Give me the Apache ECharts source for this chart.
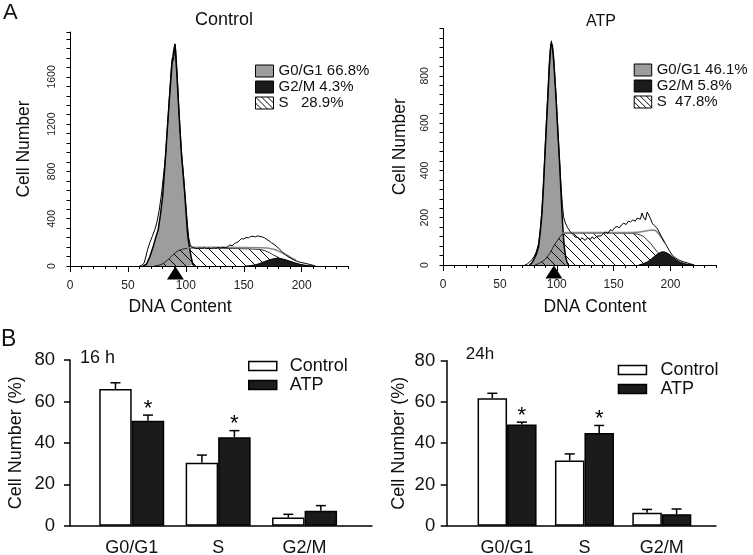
<!DOCTYPE html>
<html><head><meta charset="utf-8">
<script src="https://cdn.jsdelivr.net/npm/echarts@6/dist/echarts.min.js"></script>
<style>html,body{margin:0;padding:0;background:#fff}#c{width:753px;height:555px}</style>
</head><body><div id="c"></div>
<script>
const FONT = '"Liberation Sans", Arial, Helvetica, sans-serif';

// ---------- Panel A : DNA histograms ----------
const histTickLabels = [0, 50, 100, 150, 200];

const ctrlRaw = [[60,0],[62,6],[64,25],[65.6,83],[67,140],[69,200],[71,250],[73.3,309],[75,370],[77,470],[79,610],[81,790],[82.5,935],[84,1170],[86,1460],[87.5,1690],[88.3,1760],[89.2,1740],[90,1800],[90.6,1880],[91.3,1830],[92.5,1640],[94,1330],[94.9,1180],[96.3,960],[98,770],[99.2,620],[100.5,460],[101.5,340],[102.5,240],[103.5,190],[104.5,165],[106,156],[108,150],[110,146],[112,152],[114,149],[116,154],[118,148],[120,152],[122,147],[124,153],[126,150],[128,157],[130,152],[132,158],[134,154],[136,162],[138,178],[140,172],[142,190],[144,198],[146,212],[148,232],[150,228],[152,242],[154,238],[156,250],[158,252],[160,246],[162,255],[164,250],[166,246],[168,238],[170,224],[172,212],[174,196],[176,184],[178,168],[180,150],[182,132],[184,112],[186,96],[188,80],[190,69],[192,58],[194,48],[196,40],[199,31],[202,25],[205,18],[208,11],[210,5],[212,0]];
const ctrlG1 = [[63,0],[66,15],[69,80],[72,170],[74,240],[76.2,309],[78,430],[80,592],[82,860],[84,1153],[86,1440],[88,1700],[89.5,1820],[90.6,1876],[92,1660],[93.5,1400],[94.9,1153],[96.3,935],[98,740],[99.2,592],[100.2,450],[101.2,309],[102,230],[103,168],[104.5,80],[106,15],[107.5,0]];
const ctrlS = [[73,0],[76,5],[80,18],[84,48],[86.3,69],[88,85],[90,105],[93,128],[96.4,140],[100,148],[104,152],[112,152],[125,151],[140,148],[155,145],[164,140],[168,130],[172,114],[175,97],[178,82],[181,66],[184,55],[188,40],[192,27],[196,15],[200,6],[204,0]];
const ctrlG2 = [[152,0],[156,3],[160,10],[164,22],[168,38],[172,52],[175,60],[178,64],[181,63],[184,58],[187,50],[190,40],[194,27],[198,16],[202,8],[206,3],[210,0]];
const ctrlFit = [[101,148],[104,156],[110,158],[130,158],[150,157],[165,155],[170,152],[174,146],[177,138],[180,126],[183,113],[186,98],[189,82],[192,64],[195,50]];
const ctrlPeak = 91;
const ctrlLegend = ['G0/G1 66.8%', 'G2/M 4.3%', 'S   28.9%'];

const atpRaw = [[72,0],[74,4],[76,12],[78,22],[80,35],[82,55],[84,90],[85.5,150],[87,235],[88.2,340],[89.3,450],[90.8,600],[92.2,730],[93.5,860],[94.5,925],[95.3,948],[96.2,942],[97.2,890],[98.3,800],[99.5,710],[101,570],[102.5,440],[103.8,330],[105,250],[106,204],[107.5,178],[108.5,168],[109.5,158],[110.5,150],[111.9,141],[113,133],[114.8,127],[116,118],[117.5,112],[119,116],[120.7,106],[122,115],[123.6,113],[125,104],[127,116],[129.5,108],[131,119],[133,111],[135.4,122],[137,128],[139,123],[141.2,135],[143,139],[145,134],[147.1,149],[149,145],[151,158],[153,163],[155,157],[157,170],[158.9,177],[161,171],[163,186],[164.8,182],[167,191],[169,185],[170.6,198],[172,206],[173.5,194],[175,220],[176.5,199],[178,190],[179.5,224],[180.9,218],[182.5,196],[183.9,176],[186,166],[188.3,155],[190.5,135],[192.7,113],[195,94],[197.1,77],[199,60],[201.5,42],[204,31],[207.3,21],[211,14],[214.7,9],[218,4],[221,0]];
const atpG1 = [[76,0],[78,8],[79.6,21],[82,45],[84,77],[85.5,140],[87,219],[88.2,320],[89.3,430],[90.8,580],[92.2,712],[93.5,840],[94.5,910],[95.2,937],[96.2,925],[97.5,850],[99.3,712],[101,560],[102.5,430],[103.6,320],[104.6,219],[105.6,140],[106.6,77],[107.8,35],[109,12],[110.5,0]];
const atpS = [[81,0],[84,6],[87,14],[90,25],[94,50],[97,77],[100,100],[103,120],[105.5,134],[115,135],[130,135],[150,135],[165,134],[171,131],[174,126],[176.5,120],[179.5,106],[182.4,92],[185.5,73],[188.3,56],[191,42],[194.1,28],[197,20],[200,14],[203,9],[206,5],[210,0]];
const atpG2 = [[172,0],[176,5],[180,14],[183,25],[186,37],[189,48],[192,55],[194,56],[196,53],[199,45],[202,33],[205,22],[208,13],[212,6],[216,2],[220,0]];
const atpFit = [[105,134],[108,137],[130,137],[150,137],[167,137],[172,139],[177,143],[182,147],[185,148],[187,145],[189,136],[191,124],[193,110],[195,94]];
const atpPeak = 97.5;
const atpLegend = ['G0/G1 46.1%', 'G2/M 5.8%', 'S  47.8%'];

// ---------- Panel B : bar charts ----------
const phases = ['G0/G1', 'S', 'G2/M'];
const groups = ['Control', 'ATP'];
const ctrl16 = [66.0, 30.4, 3.9];
const ctrl16Err = [3.0, 3.7, 1.6];
const atp16 = [50.7, 42.7, 7.2];
const atp16Err = [2.7, 3.2, 2.5];
const sig16 = [1, 1, 0];
const ctrl24 = [61.8, 31.6, 6.3];
const ctrl24Err = [2.4, 3.2, 1.6];
const atp24 = [49.1, 44.9, 5.6];
const atp24Err = [1.1, 3.7, 2.5];
const sig24 = [1, 1, 0];

// ---------- helpers ----------
function makeHatch(size) {
  const c = document.createElement('canvas');
  c.width = size; c.height = size;
  const g = c.getContext('2d');
  g.strokeStyle = '#000'; g.lineWidth = 1;
  g.beginPath();
  g.moveTo(0, 0); g.lineTo(size, size);
  g.moveTo(-size / 2, size / 2); g.lineTo(size / 2, size * 1.5);
  g.moveTo(size / 2, -size / 2); g.lineTo(size * 1.5, size / 2);
  g.stroke();
  return c;
}
const hatchFill = { image: makeHatch(10), repeat: 'repeat' };
const hatchLegend = { image: makeHatch(6), repeat: 'repeat' };
const GRAY = '#9d9d9d', DARK = '#1b1b1b';

function histSeries(xi, yi, raw, g1, s, g2, fit, names, peak) {
  const base = { type: 'line', xAxisIndex: xi, yAxisIndex: yi, symbol: 'none', showSymbol: false, animation: false, silent: true };
  return [
    Object.assign({}, base, { name: names[0], data: g1, z: 2,
      lineStyle: { color: '#000', width: 1.5 }, itemStyle: { color: GRAY },
      areaStyle: { color: GRAY, opacity: 1 },
      markPoint: { symbol: 'triangle', symbolSize: [17, 13], symbolOffset: [0, 7], silent: true,
        itemStyle: { color: '#000' }, label: { show: false }, data: [{ coord: [peak, 0] }] } }),
    Object.assign({}, base, { name: names[2], data: s, z: 3,
      lineStyle: { color: '#000', width: 0.8 }, itemStyle: { color: '#fff' },
      areaStyle: { color: hatchFill, opacity: 1 } }),
    Object.assign({}, base, { name: names[1], data: g2, z: 4,
      lineStyle: { color: '#000', width: 1 }, itemStyle: { color: DARK },
      areaStyle: { color: DARK, opacity: 1 } }),
    Object.assign({}, base, { name: 'fit' + xi, data: fit, z: 5,
      lineStyle: { color: '#888', width: 1.6 } }),
    Object.assign({}, base, { name: 'raw' + xi, data: raw, z: 6,
      lineStyle: { color: '#000', width: 1 } })
  ];
}

function histLegend(names, left, top, w) {
  return {
    orient: 'vertical', left: left, top: top, padding: 0, itemWidth: w, itemHeight: 12, itemGap: 1,
    selectedMode: false,
    textStyle: { fontSize: 15, color: '#111', fontFamily: FONT },
    data: [
      { name: names[0], icon: 'rect', itemStyle: { color: GRAY, borderColor: '#000', borderWidth: 1 } },
      { name: names[1], icon: 'rect', itemStyle: { color: DARK, borderColor: '#000', borderWidth: 1 } },
      { name: names[2], icon: 'rect', itemStyle: { color: hatchLegend, borderColor: '#000', borderWidth: 1 } }
    ]
  };
}

function barLegend(left, top, gap) {
  return {
    orient: 'vertical', left: left, top: top, padding: 0, itemWidth: 28, itemHeight: 9, itemGap: 1,
    selectedMode: false,
    textStyle: { fontSize: 18, color: '#111', fontFamily: FONT, padding: [0, 0, 0, gap] },
    data: [
      { name: groups[0], icon: 'rect', itemStyle: { color: '#fff', borderColor: '#000', borderWidth: 1.5 } },
      { name: groups[1], icon: 'rect', itemStyle: { color: DARK, borderColor: '#000', borderWidth: 1.5 } }
    ]
  };
}

function histX(grid) {
  return [
    { gridIndex: grid, type: 'value', min: 0, max: 240, interval: 10,
      axisLine: { show: true, lineStyle: { color: '#000', width: 1 } },
      axisTick: { show: true, length: 3, lineStyle: { color: '#000' } },
      splitLine: { show: false },
      axisLabel: { customValues: histTickLabels, formatter: v => String(v), fontSize: 12, margin: 14, color: '#222', fontFamily: FONT } },
    { gridIndex: grid, type: 'value', min: 0, max: 240, position: 'bottom',
      axisLine: { show: false }, axisLabel: { show: false }, splitLine: { show: false },
      axisTick: { show: true, length: 6, customValues: histTickLabels, lineStyle: { color: '#000' } } }
  ];
}
function histY(grid, max, interval, gap) {
  return { gridIndex: grid, type: 'value', min: 0, max: max, interval: interval,
    axisLine: { show: true, lineStyle: { color: '#000', width: 1 } },
    axisTick: { show: true, length: 3.5, lineStyle: { color: '#000' } },
    minorTick: { show: true, splitNumber: 5, length: 3.5, lineStyle: { color: '#000' } },
    splitLine: { show: false },
    axisLabel: { rotate: 90, fontSize: 10.5, margin: 12, color: '#222', showMaxLabel: false, fontFamily: FONT,
      formatter: v => String(v) },
    name: 'Cell Number', nameLocation: 'middle', nameGap: gap,
    nameTextStyle: { fontSize: 17.5, color: '#111', fontFamily: FONT } };
}

function barX(grid, min, max) {
  return { gridIndex: grid, type: 'value', min: min, max: max,
    axisLine: { show: true, lineStyle: { color: '#000', width: 1.5 } },
    axisTick: { show: false }, splitLine: { show: false },
    axisLabel: { customValues: [1, 2, 3], formatter: v => phases[Math.round(v) - 1],
      fontSize: 18, margin: 13, color: '#111', fontFamily: FONT } };
}
function barY(grid, margin, gap) {
  return { gridIndex: grid, type: 'value', min: 0, max: 80, interval: 20,
    axisLine: { show: true, lineStyle: { color: '#000', width: 1.5 } },
    axisTick: { show: true, length: 6, lineStyle: { color: '#000', width: 1.5 } },
    splitLine: { show: false },
    axisLabel: { fontSize: 18.5, margin: margin, color: '#111', fontFamily: FONT },
    name: 'Cell Number (%)', nameLocation: 'middle', nameGap: gap,
    nameTextStyle: { fontSize: 18, color: '#111', fontFamily: FONT } };
}

function barSeries(xi, yi, ctrl, atp, w) {
  const common = { type: 'bar', xAxisIndex: xi, yAxisIndex: yi, barWidth: w, barGap: '0%', animation: false, silent: true };
  return [
    Object.assign({}, common, { name: groups[0], data: ctrl.map((v, i) => [i + 1, v]),
      itemStyle: { color: '#fff', borderColor: '#000', borderWidth: 1.5 } }),
    Object.assign({}, common, { name: groups[1], data: atp.map((v, i) => [i + 1, v]),
      itemStyle: { color: DARK, borderColor: '#000', borderWidth: 1.5 } })
  ];
}
function errSeries(xi, yi, vals, errs, sig, side, w) {
  return {
    type: 'custom', xAxisIndex: xi, yAxisIndex: yi, z: 5, silent: true, animation: false,
    data: vals.map((v, i) => [i + 1, v, errs[i], sig ? sig[i] : 0]),
    renderItem: function (params, api) {
      const x = api.value(0), v = api.value(1), e = api.value(2);
      const p0 = api.coord([x, v]);
      const p1 = api.coord([x, v + e]);
      const cx = p0[0] + side * w / 2;
      const kids = [
        { type: 'line', shape: { x1: cx, y1: p0[1], x2: cx, y2: p1[1] }, style: { stroke: '#000', lineWidth: 1.5 } },
        { type: 'line', shape: { x1: cx - 5, y1: p1[1], x2: cx + 5, y2: p1[1] }, style: { stroke: '#000', lineWidth: 1.5 } }
      ];
      if (api.value(3)) {
        kids.push({ type: 'text', style: { text: '*', x: cx, y: p1[1] - 6.5, textAlign: 'center', textVerticalAlign: 'middle',
          font: '22px ' + FONT, fill: '#000' } });
      }
      return { type: 'group', children: kids };
    }
  };
}

function txt(text, x, y, size, align) {
  return { type: 'text', silent: true, style: { text: text, x: x, y: y, font: size + 'px ' + FONT,
    textAlign: align || 'center', textVerticalAlign: 'middle', fill: '#111' } };
}

const chart = echarts.init(document.getElementById('c'), null, { renderer: 'canvas' });
chart.setOption({
  animation: false,
  backgroundColor: '#fff',
  textStyle: { fontFamily: FONT },
  grid: [
    { left: 70, top: 32, width: 278, height: 234, outerBoundsMode: 'none', containLabel: false },
    { left: 443, top: 28.5, width: 273, height: 236.5, outerBoundsMode: 'none', containLabel: false },
    { left: 70, top: 360, width: 302, height: 165.7, outerBoundsMode: 'none', containLabel: false },
    { left: 446.7, top: 360.7, width: 269.3, height: 165, outerBoundsMode: 'none', containLabel: false }
  ],
  xAxis: [].concat(histX(0), histX(1), [barX(2, 0.286, 3.78), barX(3, 0.22, 3.70)]),
  yAxis: [histY(0, 1980, 400, 36.5), histY(1, 1000, 200, 34), barY(2, 15, 45), barY(3, 11.5, 38.5)],
  legend: [
    histLegend(ctrlLegend, 255, 63.5, 18),
    histLegend(atpLegend, 633.7, 62.5, 17.5),
    barLegend(248, 357, 8),
    barLegend(617.7, 361, 9)
  ],
  graphic: [
    txt('A', 3, 13, 22, 'left'),
    txt('B', 1, 340, 23, 'left'),
    txt('Control', 224, 20, 18),
    txt('ATP', 601, 21.5, 16),
    txt('DNA Content', 180, 307.5, 17.5),
    txt('DNA Content', 595, 307.5, 17.5),
    txt('16 h', 97.5, 358.5, 18),
    txt('24h', 480, 354, 17)
  ],
  series: [].concat(
    histSeries(0, 0, ctrlRaw, ctrlG1, ctrlS, ctrlG2, ctrlFit, ctrlLegend, ctrlPeak),
    histSeries(2, 1, atpRaw, atpG1, atpS, atpG2, atpFit, atpLegend, atpPeak),
    barSeries(4, 2, ctrl16, atp16, 32.5),
    barSeries(5, 3, ctrl24, atp24, 29.5),
    [errSeries(4, 2, ctrl16, ctrl16Err, null, -1, 32.5), errSeries(4, 2, atp16, atp16Err, sig16, 1, 32.5),
     errSeries(5, 3, ctrl24, ctrl24Err, null, -1, 29.5), errSeries(5, 3, atp24, atp24Err, sig24, 1, 29.5)]
  )
});
</script>
</body></html>
